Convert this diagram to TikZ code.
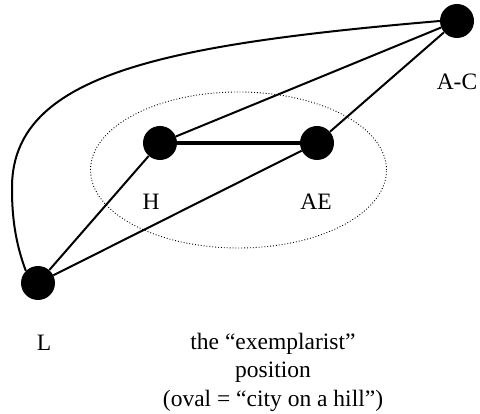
\documentclass[tikz,border=0pt]{standalone}
\usepackage{fontspec}
\setmainfont{Liberation Serif}
\usetikzlibrary{shapes.geometric, positioning}

\begin{document}
\begin{tikzpicture}[
			x=1pt, y=-1pt,
			point/.style={circle, fill=black, draw=none, minimum size=34pt, inner sep=0pt},
			tag/.style={font=\fontsize{23.5}{28.5}\selectfont, inner sep=0pt},
			tie/.style={line width=2pt, color=black},
			bond/.style={line width=4pt, color=black},
			oval/.style={ellipse, draw=black, dotted, line width=0.9pt, minimum width=296pt, minimum height=156pt}
			]
			\useasboundingbox (0,0) rectangle (480,414);
			
			% --- City on a hill ---
			\node[oval] (city) at (238.5, 170) {};
			
			% --- Positions ---
			\node[point] (ac) at (457, 21) {};
			\node[point] (h) at (160, 143) {};
			\node[point] (ae) at (317, 143) {};
			\node[point] (l) at (38, 283) {};
			
			% --- Labels ---
			\node[tag] (ac_lbl) at (457, 82) {A-C};
			\node[tag] (h_lbl) at (151, 202) {H};
			\node[tag] (ae_lbl) at (316, 202) {AE};
			\node[tag] (l_lbl) at (44, 343) {L};
			\node[tag, align=center] (caption) at (273, 372) {the “exemplarist”\\position\\(oval = “city on a hill”)};
			
			% --- Ties ---
			\draw[bond] (h) -- (ae);
			\draw[tie] (h) -- (ac);
			\draw[tie] (ae) -- (ac);
			\draw[tie] (l) -- (h);
			\draw[tie] (l) -- (ae);
			\draw[tie] (ac.west) .. controls (160, 45) and (10, 75) .. (12, 190) .. controls (12, 230) and (20, 255) .. (l.north west);
			
		\end{tikzpicture}
\end{document}
